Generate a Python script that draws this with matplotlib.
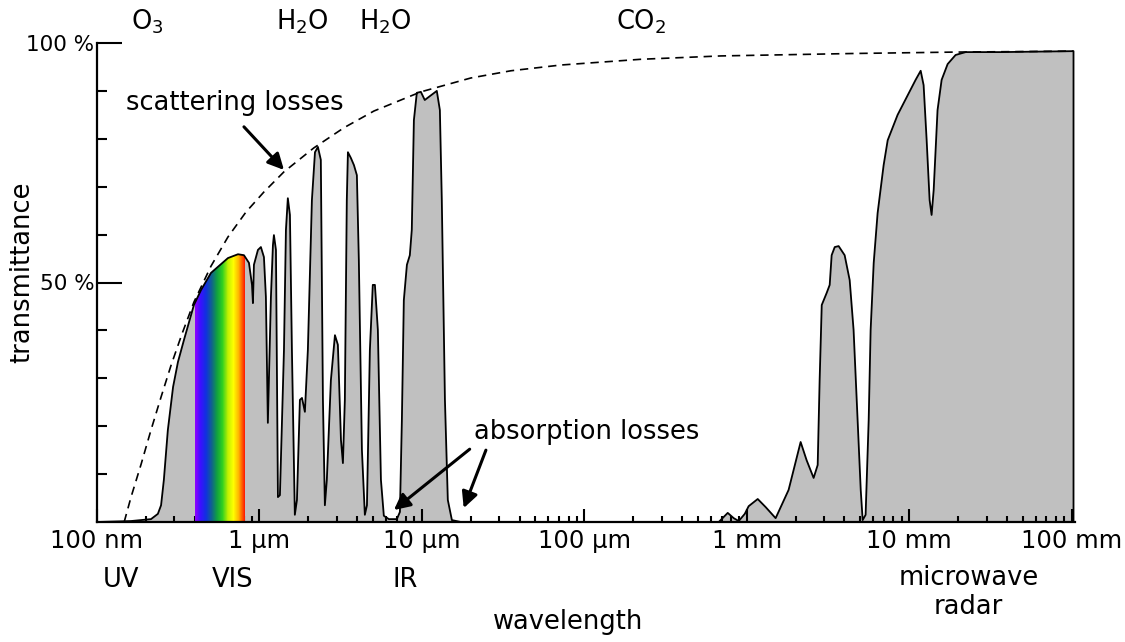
import numpy as np
import matplotlib.pyplot as plt
from matplotlib.colors import LinearSegmentedColormap
from matplotlib.ticker import FixedLocator, LogLocator

plt.rcParams['font.family'] = ['DejaVu Sans']

# atmospheric transmittance: wavelength in micrometres, transmittance in %
wl = [0.1, 0.162, 0.215, 0.237, 0.248, 0.258, 0.273, 0.294, 0.315, 0.343, 0.395, 0.4365,
      0.503, 0.640, 0.738, 0.803, 0.862, 0.900, 0.912, 0.925, 0.979, 1.021,
      1.066, 1.096, 1.127, 1.177, 1.211, 1.228, 1.264, 1.300, 1.337, 1.416,
      1.456, 1.496, 1.541, 1.585, 1.652, 1.702, 1.775, 1.828, 1.905, 1.987,
      2.104, 2.198, 2.291, 2.388, 2.46, 2.529, 2.60, 2.754, 2.917, 3.041,
      3.177, 3.266, 3.357, 3.451, 3.506, 3.656, 3.819, 3.981, 4.093, 4.276,
      4.457, 4.592, 4.786, 4.989, 5.14, 5.36, 5.598, 5.834, 6.266, 7.015,
      7.328, 7.534, 7.745, 8.091, 8.433, 8.67, 8.933, 9.311, 9.86, 10.42,
      11.19, 12.36, 12.91, 13.27, 13.87, 14.45, 15.31, 17.38,
      673, 764, 832, 893, 973, 1028, 1169, 1309, 1507, 1811,
      2148, 2338, 2582, 2735, 2812, 2897, 3105, 3243, 3334, 3483,
      3681, 4009, 4305, 4550, 4817, 5035, 5176, 5395, 5636, 5794,
      6052, 6397, 6966, 7379, 8492, 9795, 10960, 11780, 12280, 12820, 13370,
      13750, 14160, 14560, 14960, 15850, 17260, 19320, 22280, 36560, 102800]
trans = [0, 0.2, 0.6, 1.7, 3.5, 8.8, 19.2, 28.2, 33.4, 38.0, 45.3, 48.4,
         52.0, 55.1, 55.9, 55.7, 54.1, 49.5, 45.7, 53.7, 56.8, 57.4,
         55.3, 47.0, 20.7, 47.0, 57.8, 59.9, 56.8, 5.2, 5.6, 35.9,
         61.0, 67.6, 64.1, 35.9, 1.5, 4.6, 25.5, 25.9, 23.0, 35.9,
         67.2, 77.2, 78.3, 75.6, 25.5, 3.5, 8.8, 29.6, 39.0, 37.0,
         17.1, 12.3, 25.5, 67.2, 77.2, 76.0, 74.5, 72.4, 54.7, 15.0,
         1.5, 3.5, 35.9, 49.5, 49.5, 40.1, 8.8, 1.3, 0.6, 0.6,
         2.1, 21.3, 46.3, 53.7, 55.7, 61.0, 83.9, 89.6, 89.8, 88.1,
         88.9, 90.0, 86.0, 67.2, 25.5, 4.6, 0.4, 0,
         0, 1.9, 0.8, 0.2, 1.7, 3.3, 4.8, 3.1, 0.8, 6.7,
         16.7, 12.9, 9.2, 11.9, 29.6, 45.3, 47.8, 49.5, 55.7, 57.4,
         57.6, 55.7, 50.5, 40.1, 21.3, 6.7, 0.4, 1.5, 21.3, 40.1,
         54.1, 64.5, 74.5, 79.7, 85.0, 89.1, 92.3, 94.2, 91.2, 79.7, 67.2,
         64.1, 69.3, 77.7, 86.0, 92.3, 95.6, 97.5, 98.1, 98.1, 98.3]

# upper limit set by scattering
scat_wl = [0.147, 0.162, 0.187, 0.215, 0.248, 0.285, 0.333, 0.395, 0.503, 0.640,
           0.826, 1.066, 1.416, 2.163, 3.311, 5.07, 9.86, 20.04, 35.3, 71.6,
           222.8, 691.8, 4365, 18790, 102800]
scat_t = [0, 5.2, 12.1, 19.2, 26.1, 32.6, 39.2, 45.9, 53.4, 59.5,
          64.7, 68.9, 73.1, 78.1, 82.3, 85.8, 89.8, 92.7, 94.2, 95.4,
          96.6, 97.3, 97.8, 98.1, 98.3]

vis_band = (0.40, 0.81)
vis_colors = ['#9000ff', '#3a10ff', '#1030e0', '#106090', '#10a040', '#30d020',
              '#c0f000', '#ffff00', '#ffb000', '#ff2000']

tick_pos = [0.1, 1, 10, 100, 1000, 1e4, 1e5]
tick_labels = ['100 nm', '1 µm', '10 µm', '100 µm', '1 mm', '10 mm', '100 mm']

fs_tick = 17.5
fs = 18.5
fig = plt.figure(figsize=(11.25, 6.42), dpi=100)
ax = fig.add_axes([97 / 1125, 120 / 642, 978 / 1125, 479 / 642])
ax.set_xscale('log')
ax.set_xlim(0.1, 1.05e5)
ax.set_ylim(0, 100)

# grey area under the curve
px = wl + [wl[-1]]
py = trans + [0]
poly = ax.fill(px, py, color='#c0c0c0', lw=0, zorder=1)[0]

# visible spectrum, clipped to the grey area
xs = np.geomspace(vis_band[0], vis_band[1], 200)
cmap = LinearSegmentedColormap.from_list('vis', vis_colors)
mesh = ax.pcolormesh(xs, [0, 100], np.linspace(0, 1, 199)[None, :], cmap=cmap,
                     shading='flat', zorder=2)
mesh.set_clip_path(poly)

ax.plot(px, py, color='black', lw=1.3, zorder=3, clip_on=False, solid_joinstyle='round')
ax.plot(scat_wl, scat_t, color='black', lw=1.2, ls=(0, (5, 3.5)), zorder=4)

for s in ['top', 'right']:
    ax.spines[s].set_visible(False)
for s in ['left', 'bottom']:
    ax.spines[s].set_linewidth(1.6)
    ax.spines[s].set_zorder(5)

ax.set_xticks(tick_pos, tick_labels)
ax.xaxis.set_minor_locator(LogLocator(base=10, subs=range(2, 10)))
ax.xaxis.set_minor_formatter(plt.NullFormatter())
ax.tick_params(axis='x', which='major', direction='in', length=9.5, width=1.5,
               labelsize=fs_tick, pad=5)
ax.tick_params(axis='x', which='minor', direction='in', length=4.5, width=1.5)
ax.set_yticks([50, 100], ['50 %', '100 %'])
ax.yaxis.set_minor_locator(FixedLocator([10, 20, 30, 40, 60, 70, 80, 90]))
ax.tick_params(axis='y', which='major', direction='in', length=18, width=1.5,
               labelsize=15.5, pad=2)
ax.tick_params(axis='y', which='minor', direction='in', length=7, width=1.5)

# absorbers along the top
tx = ax.get_xaxis_transform()
for x, lab in [(0.203, 'O$_3$'), (1.85, 'H$_2$O'), (5.92, 'H$_2$O'), (223, 'CO$_2$')]:
    ax.text(x, 1.045, lab, transform=tx, ha='center', va='center', fontsize=fs)

# spectral regions under the tick labels
for x, y, lab in [(0.1405, -0.121, 'UV'), (0.687, -0.121, 'VIS'), (7.85, -0.121, 'IR'),
                  (23230, -0.117, 'microwave'), (23230, -0.177, 'radar')]:
    ax.text(x, y, lab, transform=tx, ha='center', va='center', fontsize=fs)

fig.text(568 / 1125, 1 - 622 / 642, 'wavelength', ha='center', va='center', fontsize=fs)
fig.text(22 / 1125, 1 - 272 / 642, 'transmittance', ha='center', va='center',
         rotation=90, fontsize=fs)

arrow = dict(arrowstyle='-|>', color='black', lw=2.2, mutation_scale=24,
             shrinkA=0, shrinkB=0)
ax.text(0.151, 87.5, 'scattering losses', ha='left', va='center', fontsize=fs)
ax.annotate('', xy=(1.416, 73.5), xytext=(0.803, 82.5), arrowprops=arrow)

ax.text(20.9, 18.8, 'absorption losses', ha='left', va='center', fontsize=fs)
ax.annotate('', xy=(6.73, 2.5), xytext=(19.7, 15.2), arrowprops=arrow)
ax.annotate('', xy=(18.1, 2.9), xytext=(24.8, 15.0), arrowprops=arrow)

fig.savefig('out.png', dpi=100)
